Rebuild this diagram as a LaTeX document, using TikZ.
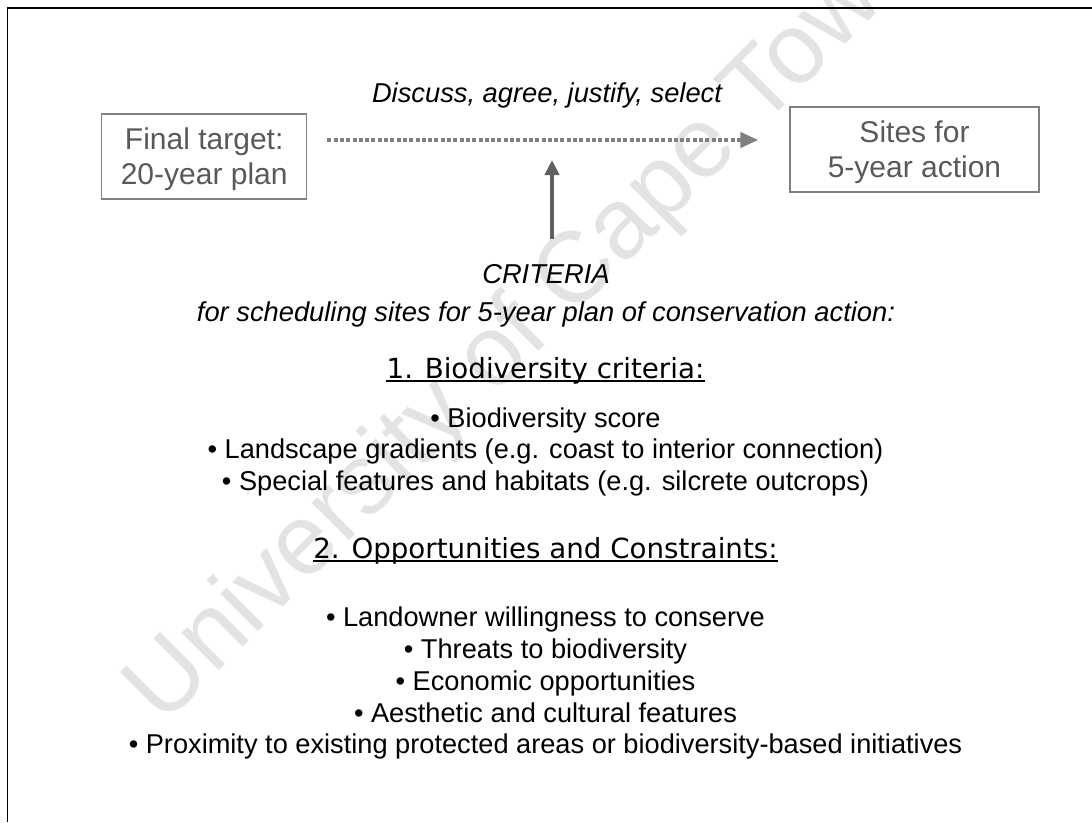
\documentclass[tikz,border=0pt]{standalone}
\usepackage{fontspec}
\setmainfont{Liberation Sans}
\newfontfamily\headfont{DejaVu Sans}
\usetikzlibrary{arrows.meta,calc}
\definecolor{boxgray}{HTML}{7F7F7F}
\definecolor{boxtext}{HTML}{595959}
\definecolor{dotgray}{HTML}{808080}
\definecolor{arrgray}{HTML}{5F5F5F}
\definecolor{wmark}{HTML}{E3E3E3}

\begin{document}
\begin{tikzpicture}[x=1pt,y=-1pt,
  plainbox/.style={draw=boxgray,line width=1.2pt,minimum height=85pt,inner sep=0pt},
  boxlabel/.style={text=boxtext,align=center,inner sep=0pt,font=\fontsize{30}{35}\selectfont},
  body/.style={anchor=base,inner sep=0pt,font=\fontsize{27.2}{31}\selectfont},
  italicbody/.style={anchor=base,inner sep=0pt,font=\fontsize{27.3}{31}\selectfont\itshape},
  heading/.style={anchor=base,inner sep=0pt,font=\fontsize{27.7}{32}\selectfont\headfont},
  uline/.style={line width=1.8pt},
  dotarrow/.style={draw=dotgray,line width=4pt,dash pattern=on 4pt off 2.3pt,
    -{Triangle[length=18pt,width=15pt]}},
  solidarrow/.style={draw=arrgray,line width=4pt,-{Triangle[length=15pt,width=14pt]}},
]
\useasboundingbox (0,0) rectangle (1092,822);
\clip (0,0) rectangle (1092,822);

% watermark behind everything
\node[anchor=base,rotate=45,text=wmark,inner sep=0pt,
  font=\fontsize{100}{100}\selectfont] (wm) at (544.5,345.5) {University of Cape Town};

% page frame (left and top edges)
\draw[line width=1.5pt] (7.3,822) -- (7.3,8) -- (1092,8);

% top row: plan boxes and the selection step between them
\node[plainbox,minimum width=205pt] (lbox) at (204.2,156.5) {};
\node[boxlabel] (ltext) at (204.2,159.7) {Final target:\\20-year plan};
\node[plainbox,minimum width=249pt] (rbox) at (914.5,149.5) {};
\node[boxlabel] (rtext) at (914.5,152.7) {Sites for\\5-year action};
\node[italicbody] (disc) at (547,102) {Discuss, agree, justify, select};
\coordinate (ay) at (0,140);
\draw[dotarrow,shorten <=20pt,shorten >=31pt] (lbox.east |- ay) -- (rbox.west |- ay);

% criteria feeding the selection
\coordinate (vtip) at (552,160);
\coordinate (vbase) at (552,239);
\draw[solidarrow] (vbase) -- (vtip);
\node[italicbody] (crit) at (546,283) {CRITERIA};
\node[italicbody] (sched) at (546,321) {for scheduling sites for 5-year plan of conservation action:};

% biodiversity criteria
\node[heading] (h1) at (545.5,378) {1. Biodiversity criteria:};
\draw[uline] ([yshift=-3pt]h1.base west) -- ([yshift=-3pt]h1.base east);
\node[body] (b1) at (545.5,427) {• Biodiversity score};
\node[body] (b2) at (545.5,458) {• Landscape gradients (e.g. coast to interior connection)};
\node[body] (b3) at (545.5,490) {• Special features and habitats (e.g. silcrete outcrops)};

% opportunities and constraints
\node[heading] (h2) at (545.5,558) {2. Opportunities and Constraints:};
\draw[uline] ([yshift=-3pt]h2.base west) -- ([yshift=-3pt]h2.base east);
\node[body] (c1) at (545.5,626) {• Landowner willingness to conserve};
\node[body] (c2) at (545.5,658) {• Threats to biodiversity};
\node[body] (c3) at (545.5,690) {• Economic opportunities};
\node[body] (c4) at (545.5,722) {• Aesthetic and cultural features};
\node[body] (c5) at (545.5,753) {• Proximity to existing protected areas or biodiversity-based initiatives};
\end{tikzpicture}
\end{document}
